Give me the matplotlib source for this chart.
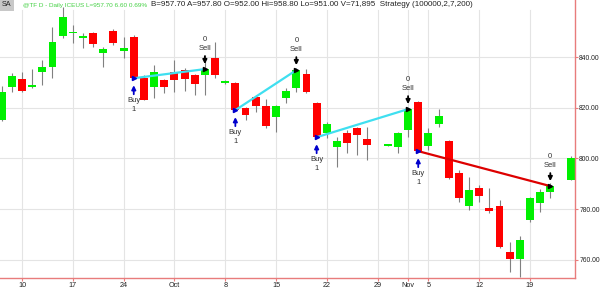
import numpy as np
import matplotlib.pyplot as plt
from matplotlib.transforms import ScaledTranslation

# daily bars, @TF Sep-Nov 2012 (Oct 29 and Nov 22 have no bar)
dates = ['2012-09-06', '2012-09-07', '2012-09-10', '2012-09-11', '2012-09-12', '2012-09-13',
         '2012-09-14', '2012-09-17', '2012-09-18', '2012-09-19', '2012-09-20', '2012-09-21',
         '2012-09-24', '2012-09-25', '2012-09-26', '2012-09-27', '2012-09-28', '2012-10-01',
         '2012-10-02', '2012-10-03', '2012-10-04', '2012-10-05', '2012-10-08', '2012-10-09',
         '2012-10-10', '2012-10-11', '2012-10-12', '2012-10-15', '2012-10-16', '2012-10-17',
         '2012-10-18', '2012-10-19', '2012-10-22', '2012-10-23', '2012-10-24', '2012-10-25',
         '2012-10-26', '2012-10-30', '2012-10-31', '2012-11-01', '2012-11-02', '2012-11-05',
         '2012-11-06', '2012-11-07', '2012-11-08', '2012-11-09', '2012-11-12', '2012-11-13',
         '2012-11-14', '2012-11-15', '2012-11-16', '2012-11-19', '2012-11-20', '2012-11-21',
         '2012-11-23']
opens = [815.1, 828.2, 831.3, 828.2, 834.1, 836.1, 848.3, 849.5, 847.5, 849.5, 841.6, 850.3,
         842.4, 847.9, 831.7, 828.2, 830.9, 834.1, 834.9, 832.9, 832.9, 839.6, 830.0, 829.8,
         819.9, 824.2, 820.7, 816.3, 823.8, 827.8, 833.3, 821.9, 810.0, 804.5, 810.0, 812.0,
         807.6, 805.1, 804.5, 811.2, 822.3, 804.9, 813.6, 806.8, 794.2, 781.1, 788.3, 780.4,
         781.1, 763.0, 760.2, 775.6, 782.3, 786.7, 791.4]
highs = [828.6, 833.7, 834.1, 835.3, 838.9, 851.9, 859.8, 852.7, 849.5, 849.9, 844.0, 851.1,
         847.9, 848.7, 832.9, 836.9, 831.3, 838.9, 835.7, 833.3, 840.8, 846.0, 830.9, 830.2,
         820.3, 825.0, 823.4, 821.1, 827.8, 835.7, 835.3, 822.3, 814.3, 808.4, 811.2, 812.4,
         812.4, 805.5, 810.4, 819.9, 822.7, 812.0, 819.5, 807.2, 795.4, 792.6, 789.4, 788.3,
         783.5, 766.9, 769.3, 784.7, 787.9, 790.2, 800.9]
lows = [814.7, 826.2, 826.2, 827.8, 829.0, 831.7, 847.5, 845.6, 843.6, 844.0, 836.1, 844.8,
        839.6, 831.3, 823.0, 823.8, 825.8, 826.2, 826.6, 825.0, 825.0, 831.7, 829.4, 818.7,
        815.1, 818.3, 812.0, 810.4, 821.9, 826.2, 825.8, 808.0, 808.0, 796.6, 802.1, 801.3,
        799.3, 804.9, 802.1, 808.4, 802.5, 803.3, 812.4, 791.8, 782.7, 779.6, 782.7, 778.4,
        764.5, 755.0, 753.1, 774.8, 778.8, 784.3, 791.4]
closes = [826.2, 832.5, 826.6, 829.0, 836.1, 846.0, 855.9, 849.9, 848.3, 845.2, 843.2, 845.6,
          843.6, 831.7, 823.0, 834.1, 828.2, 830.9, 831.3, 829.4, 835.3, 832.9, 830.2, 819.1,
          817.1, 820.7, 812.8, 820.7, 826.6, 834.9, 826.2, 808.4, 813.6, 806.8, 806.0, 809.2,
          805.3, 805.3, 810.0, 819.5, 802.9, 810.0, 816.7, 792.2, 784.3, 787.5, 785.1, 779.2,
          764.9, 760.2, 767.7, 784.2, 786.7, 789.1, 800.1]

# strategy trades
buy_dates = ['2012-09-25', '2012-10-09', '2012-10-19', '2012-11-02']
buy_prices = [831.7, 819.1, 808.4, 802.9]
sell_dates = ['2012-10-04', '2012-10-17', '2012-11-01', '2012-11-21']
sell_prices = [835.3, 834.9, 819.5, 789.1]

tick_dates = ['2012-09-10', '2012-09-17', '2012-09-24', '2012-10-01', '2012-10-08', '2012-10-15',
              '2012-10-22', '2012-10-29', '2012-11-01', '2012-11-05', '2012-11-12', '2012-11-19']
tick_labels = ['10', '17', '24', 'Oct', '8', '15', '22', '29', 'Nov', '5', '12', '19']
price_ticks = [760, 780, 800, 820, 840]

header1 = '@TF D - Daily ICEUS L=957.70 6.60 0.69%'
header2 = 'B=957.70 A=957.80 O=952.00 Hi=958.80 Lo=951.00 V=71,895  Strategy (100000,2,7,200)'

plt.rcParams['font.family'] = ['Liberation Sans', 'DejaVu Sans']


def pos(d):
    # trading-day position, Sep 10 = 0
    return np.busday_count('2012-09-10', d)


x = np.array([pos(d) for d in dates])
o = np.array(opens)
h = np.array(highs)
l = np.array(lows)
c = np.array(closes)
up = c >= o

fig = plt.figure(figsize=(6, 2.9), dpi=100)
ax = fig.add_axes([0, 12 / 290, 575 / 600, 1 - 12 / 290])

grid_c = '#e4e4e4'
for t in tick_dates:
    ax.axvline(pos(t), ymax=0.965, color=grid_c, lw=0.8, zorder=0)
for p in price_ticks:
    ax.axhline(p, color=grid_c, lw=0.8, zorder=0)

# candles
ax.vlines(x, l, h, color='#808080', lw=0.8, zorder=1)
body = np.maximum(np.abs(c - o), 0.45)
ax.bar(x, body, bottom=np.minimum(o, c), width=0.78,
       color=np.where(up, '#00f000', '#ff0000'), zorder=2)


def shifted(dy_px):
    return ax.transData + ScaledTranslation(0, dy_px / 100, fig.dpi_scale_trans)


txt_c = '#333333'
for bd, bp, sd, sp in zip(buy_dates, buy_prices, sell_dates, sell_prices):
    xb, xs = pos(bd), pos(sd)
    col = '#3fdff0' if sp > bp else '#dd0000'
    ax.plot([xb, xs], [bp, sp], color=col, lw=1.6, zorder=3)
    ax.plot(xb, bp, marker='>', color='#0000cc', ms=3, zorder=4)
    ax.plot(xs, sp, marker='>', color='black', ms=3, zorder=4)

    # buy marker below entry
    ax.annotate('', xy=(xb, bp), xycoords=shifted(-7), xytext=(xb, bp), textcoords=shifted(-16),
                arrowprops=dict(arrowstyle='-|>', color='#0000cc', lw=1.3, mutation_scale=6,
                                shrinkA=0, shrinkB=0), zorder=4)
    ax.text(xb, bp, 'Buy', transform=shifted(-22), ha='center', va='center', fontsize=5.5, color=txt_c)
    ax.text(xb, bp, '1', transform=shifted(-31), ha='center', va='center', fontsize=5.5, color=txt_c)

    # sell marker above exit
    ax.annotate('', xy=(xs, sp), xycoords=shifted(5), xytext=(xs, sp), textcoords=shifted(13),
                arrowprops=dict(arrowstyle='-|>', color='black', lw=1.3, mutation_scale=6,
                                shrinkA=0, shrinkB=0), zorder=4)
    ax.text(xs, sp, 'Sell', transform=shifted(21), ha='center', va='center', fontsize=5.5, color=txt_c)
    ax.text(xs, sp, '0', transform=shifted(30), ha='center', va='center', fontsize=5.5, color=txt_c)

ax.set_xlim(-2.165, 54.43)
ax.set_ylim(752.8, 862.6)

axis_c = '#e87c7c'
for s in ['top', 'left']:
    ax.spines[s].set_visible(False)
for s in ['right', 'bottom']:
    ax.spines[s].set_color(axis_c)
    ax.spines[s].set_linewidth(1)

ax.set_xticks([pos(t) for t in tick_dates])
ax.set_xticklabels(tick_labels)
ax.set_yticks(price_ticks)
ax.set_yticklabels([f'{p:.2f}' for p in price_ticks])
ax.yaxis.tick_right()
ax.tick_params(axis='both', length=2, width=0.8, color=axis_c, labelsize=5.2,
               labelcolor='#222222', pad=1)
ax.tick_params(axis='y', labelsize=4.9)

# header line
hy = 1 - 5 / 290
fig.text(1.5 / 600, hy, 'SA', fontsize=5.2, color='#222222', va='center',
         bbox=dict(boxstyle='square,pad=0.35', fc='#c8c8c8', ec='none'))
t1 = fig.text(23 / 600, hy, header1, fontsize=4.6, color='#44d044', va='center')
fig.canvas.draw()
x_end = t1.get_window_extent().x1
fig.text((x_end + 4) / 600, hy, header2, fontsize=5.8, color='#222222', va='center')

fig.savefig('out.png', dpi=100)
